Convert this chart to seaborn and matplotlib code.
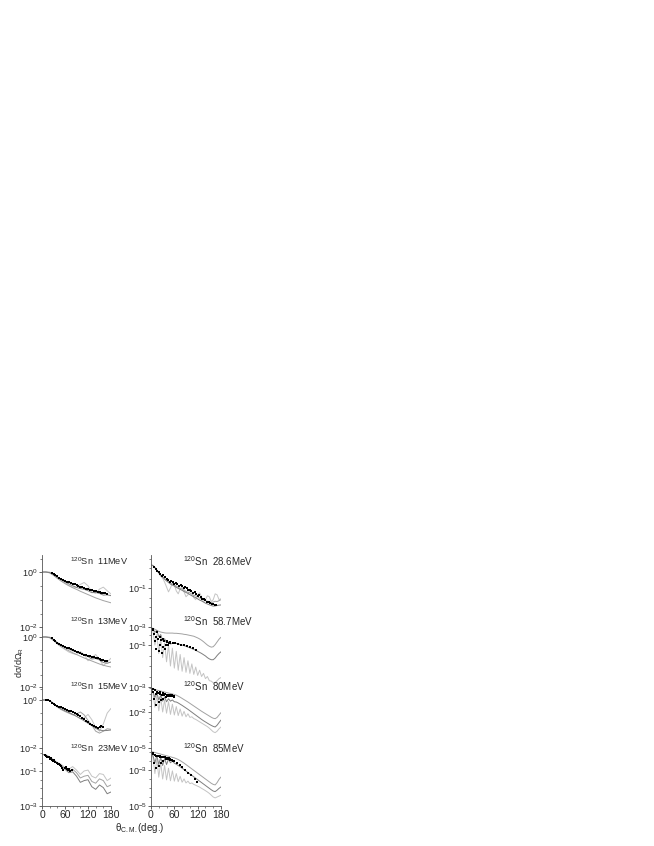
import numpy as np
import matplotlib
matplotlib.use('Agg')
import matplotlib.pyplot as plt
import seaborn as sns
from matplotlib.ticker import FixedLocator, LogLocator, NullFormatter, MultipleLocator

# ─── Data (log10 of dσ/dΩ_R) ─────────────────────────────────────────────────
TH10 = [0, 10, 20, 30, 40, 50, 60, 70, 80, 90, 100, 110, 120, 130, 140, 150, 160, 170, 180]
TH5 = [0, 5, 10, 15, 20, 25, 30, 35, 40, 45, 50, 55, 60, 65, 70, 75, 80, 85, 90,
       95, 100, 105, 110, 115, 120, 125, 130, 135, 140, 145, 150, 155, 160, 165, 170, 175, 180]

# 11 MeV
sn11_th = [25, 30, 35, 40, 45, 50, 55, 60, 65, 70, 75, 80, 85, 90, 95, 100, 105, 110, 115,
           120, 125, 130, 135, 140, 145, 150, 155, 160, 165, 170]
sn11_exp = [-0.02, -0.06, -0.12, -0.16, -0.21, -0.24, -0.28, -0.31, -0.35, -0.37,
            -0.40, -0.43, -0.45, -0.48, -0.50, -0.53, -0.55, -0.58, -0.60, -0.62,
            -0.64, -0.66, -0.68, -0.70, -0.72, -0.74, -0.75, -0.77, -0.78, -0.79]
sn11_a = [0, 0.01, 0, -0.1, -0.22, -0.32, -0.4, -0.48, -0.55, -0.55, -0.45, -0.38, -0.5, -0.72, -0.78, -0.62, -0.55, -0.68, -0.8]
sn11_b = [0, 0, -0.03, -0.12, -0.23, -0.33, -0.42, -0.5, -0.57, -0.63, -0.7, -0.76, -0.82, -0.88, -0.94, -0.99, -1.04, -1.08, -1.12]
sn11_c = [0, 0, -0.02, -0.1, -0.2, -0.28, -0.36, -0.43, -0.5, -0.56, -0.6, -0.63, -0.68, -0.75, -0.74, -0.78, -0.84, -0.83, -0.86]

# 13 MeV
sn13_th = sn11_th
sn13_exp = [-0.05, -0.1, -0.16, -0.22, -0.27, -0.31, -0.35, -0.38, -0.42, -0.45,
            -0.48, -0.52, -0.55, -0.58, -0.61, -0.64, -0.67, -0.7, -0.72, -0.74,
            -0.76, -0.79, -0.81, -0.83, -0.85, -0.87, -0.9, -0.92, -0.94, -0.96]
sn13_a = [0, 0.01, 0, -0.12, -0.28, -0.4, -0.5, -0.6, -0.66, -0.7, -0.58, -0.7, -0.95, -0.82, -0.7, -0.9, -1.15, -1.0, -0.85]
sn13_b = [0, 0, -0.03, -0.14, -0.27, -0.38, -0.47, -0.55, -0.63, -0.7, -0.77, -0.84, -0.9, -0.96, -1.02, -1.08, -1.13, -1.17, -1.2]
sn13_c = [0, 0, -0.02, -0.1, -0.22, -0.32, -0.41, -0.48, -0.55, -0.6, -0.66, -0.72, -0.78, -0.88, -0.86, -0.92, -1.02, -1.05, -1.0]

# 15 MeV
sn15_th = [10, 15, 20, 25, 30, 35, 40, 45, 50, 55, 60, 65, 70, 75, 80, 85, 90, 95, 100,
           105, 110, 115, 120, 125, 130, 135, 140, 145, 150, 155, 160]
sn15_exp = [0, -0.02, -0.06, -0.12, -0.17, -0.2, -0.24, -0.28, -0.3, -0.33,
            -0.36, -0.4, -0.44, -0.47, -0.5, -0.53, -0.57, -0.62, -0.68, -0.74,
            -0.8, -0.86, -0.92, -0.98, -1.03, -1.08, -1.12, -1.16, -1.14, -1.1, -1.12]
sn15_a = [0, 0, -0.02, -0.15, -0.28, -0.38, -0.45, -0.52, -0.6, -0.68, -0.78, -0.75, -0.6, -0.82, -1.15, -1.3, -1.0, -0.55, -0.35]
sn15_b = [0, 0, -0.03, -0.16, -0.3, -0.4, -0.48, -0.55, -0.62, -0.58, -0.5, -0.62, -0.85, -1.05, -1.3, -1.38, -1.3, -1.2, -1.22]
sn15_c = [0, 0, -0.02, -0.14, -0.27, -0.37, -0.45, -0.52, -0.6, -0.68, -0.77, -0.87, -0.97, -1.07, -1.18, -1.25, -1.28, -1.27, -1.25]

# 23 MeV
sn23_th = [8, 11, 14, 17, 20, 23, 26, 29, 32, 35, 38, 41, 44, 47, 50, 53, 56, 59, 62, 65, 68, 71, 74, 77]
sn23_exp = [-0.08, -0.12, -0.18, -0.22, -0.3, -0.28, -0.35, -0.42, -0.4, -0.48,
            -0.55, -0.6, -0.58, -0.66, -0.72, -0.85, -0.95, -0.82, -0.78, -0.88,
            -0.95, -0.9, -1.0, -0.95]
sn23_a = [-0.05, -0.08, -0.2, -0.35, -0.5, -0.62, -0.8, -0.9, -0.75, -0.95, -1.2, -1.0, -0.95, -1.3, -1.4, -1.15, -1.2, -1.55, -1.4]
sn23_b = [-0.05, -0.08, -0.22, -0.38, -0.55, -0.68, -0.85, -1.0, -0.9, -1.1, -1.4, -1.3, -1.25, -1.6, -1.7, -1.45, -1.55, -1.9, -1.8]
sn23_c = [-0.05, -0.1, -0.25, -0.4, -0.58, -0.72, -0.9, -1.1, -1.05, -1.3, -1.65, -1.55, -1.5, -1.9, -2.05, -1.8, -1.95, -2.3, -2.2]

# 28.6 MeV
sn286_th = [8, 12, 16, 20, 24, 28, 32, 36, 40, 44, 48, 52, 56, 60, 64, 68, 72, 76, 80, 84, 88,
            92, 96, 100, 104, 108, 112, 116, 120, 124, 128, 132, 136, 140, 144, 148, 152, 156, 160, 164, 168]
sn286_exp = [0.05, -0.05, -0.15, -0.2, -0.3, -0.38, -0.35, -0.45, -0.55, -0.6,
             -0.68, -0.62, -0.7, -0.78, -0.72, -0.8, -0.9, -0.85, -0.88, -1.0,
             -0.95, -1.02, -1.12, -1.08, -1.15, -1.28, -1.22, -1.3, -1.42, -1.38,
             -1.45, -1.58, -1.55, -1.6, -1.72, -1.7, -1.75, -1.82, -1.8, -1.85, -1.88]
sn286_a = [0.18, 0.15, 0.05, -0.1, -0.25, -0.4, -0.5, -0.7, -0.95, -1.2, -1.0, -0.75, -0.85,
           -1.15, -1.3, -1.05, -0.95, -1.2, -1.45, -1.35, -1.1, -1.2, -1.5, -1.6, -1.35,
           -1.25, -1.45, -1.7, -1.6, -1.4, -1.45, -1.7, -1.6, -1.3, -1.35, -1.6, -1.55]
sn286_b = [0.18, 0.15, 0.05, -0.08, -0.2, -0.32, -0.42, -0.52, -0.6, -0.68, -0.75, -0.8, -0.85,
           -0.9, -0.97, -1.02, -1.05, -1.1, -1.18, -1.22, -1.25, -1.32, -1.38, -1.4, -1.45,
           -1.52, -1.55, -1.58, -1.65, -1.68, -1.7, -1.75, -1.72, -1.68, -1.7, -1.65, -1.6]
sn286_c = [0.18, 0.15, 0.04, -0.1, -0.22, -0.35, -0.45, -0.55, -0.64, -0.72, -0.8, -0.85, -0.9,
           -0.97, -1.02, -1.07, -1.12, -1.18, -1.23, -1.28, -1.34, -1.4, -1.45, -1.5, -1.56,
           -1.62, -1.66, -1.72, -1.78, -1.82, -1.86, -1.9, -1.93, -1.92, -1.9, -1.88, -1.87]

# 58.7 MeV
sn587_th = [4, 6, 8, 10, 12, 14, 16, 18, 20, 22, 24, 26, 28, 30, 32, 34, 36, 38, 40, 42, 44, 46, 48, 50,
            56, 62, 70, 78, 85, 92, 100, 108, 115]
sn587_exp = [-0.25, -0.3, -0.45, -0.8, -1.2, -0.6, -0.4, -0.7, -1.3, -1.0, -0.6, -0.75,
             -1.4, -1.1, -0.7, -0.8, -1.2, -1.0, -0.8, -0.85, -1.0, -0.9, -0.85, -0.88,
             -0.9, -0.92, -0.95, -1.0, -0.98, -1.05, -1.1, -1.15, -1.25]
sn587_top = [-0.19, -0.2, -0.25, -0.3, -0.35, -0.38, -0.4, -0.42, -0.43, -0.43, -0.43, -0.43, -0.44,
             -0.44, -0.45, -0.46, -0.47, -0.49, -0.5, -0.52, -0.54, -0.56, -0.58, -0.62, -0.66,
             -0.71, -0.77, -0.84, -0.92, -1.0, -1.06, -1.1, -1.08, -0.98, -0.85, -0.72, -0.63]
sn587_mid = [-0.19, -0.22, -0.4, -0.3, -0.6, -0.5, -0.8, -0.7, -0.9, -0.85, -0.95, -0.92, -0.9,
             -0.92, -0.94, -0.98, -1.0, -1.03, -1.06, -1.1, -1.13, -1.17, -1.21, -1.25, -1.3,
             -1.35, -1.4, -1.46, -1.52, -1.6, -1.66, -1.7, -1.7, -1.62, -1.5, -1.4, -1.32]
sn587_low = [-0.19, -0.3, -1.0, -0.5, -1.4, -0.7, -1.6, -0.9, -1.8, -1.0, -2.0, -1.15, -2.1,
             -1.3, -2.2, -1.45, -2.25, -1.6, -2.3, -1.75, -2.35, -1.9, -2.4, -2.05, -2.45,
             -2.2, -2.5, -2.35, -2.6, -2.5, -2.7, -2.72, -2.8, -2.78, -2.7, -2.6, -2.55]

# 80 MeV
sn80_th = [4, 6, 8, 10, 12, 14, 16, 18, 20, 22, 24, 26, 28, 30, 32, 34, 36, 38, 40, 42, 44, 46,
           48, 50, 52, 54, 56, 58, 60]
sn80_exp = [-0.1, -0.3, -0.9, -0.2, -0.5, -1.4, -0.3, -0.4, -1.2, -0.5, -0.35, -1.0, -0.6,
            -0.45, -0.9, -0.55, -0.5, -0.75, -0.6, -0.55, -0.7, -0.62, -0.6, -0.68, -0.65,
            -0.62, -0.66, -0.7, -0.72]
sn80_top = [0, -0.05, -0.12, -0.18, -0.22, -0.26, -0.3, -0.34, -0.38, -0.42, -0.46, -0.5, -0.55,
            -0.6, -0.68, -0.77, -0.87, -0.97, -1.07, -1.17, -1.28, -1.39, -1.5, -1.61, -1.72,
            -1.83, -1.94, -2.04, -2.14, -2.24, -2.34, -2.44, -2.52, -2.56, -2.45, -2.25, -2.05]
sn80_mid = [0, -0.3, -0.8, -0.4, -1.0, -0.6, -1.1, -0.75, -1.15, -0.9, -1.1, -1.0, -1.15,
            -1.17, -1.25, -1.35, -1.45, -1.56, -1.67, -1.78, -1.9, -2.02, -2.14, -2.26, -2.38,
            -2.5, -2.62, -2.73, -2.83, -2.93, -3.03, -3.12, -3.2, -3.25, -3.1, -2.88, -2.67]
sn80_low = [0, -0.4, -1.6, -0.6, -1.9, -0.8, -2.0, -1.0, -2.1, -1.15, -2.2, -1.35, -2.25,
            -1.55, -2.3, -1.75, -2.35, -1.95, -2.4, -2.15, -2.45, -2.4, -2.55, -2.62, -2.72,
            -2.82, -2.92, -3.02, -3.12, -3.22, -3.35, -3.5, -3.65, -3.72, -3.6, -3.4, -3.25]

# 85 MeV
sn85_th = sn80_th + [66, 74, 80, 88, 96, 104, 112, 118]
sn85_exp = [-2.05, -2.1, -2.6, -2.15, -2.2, -2.9, -2.2, -2.25, -2.8, -2.25, -2.3, -2.6,
            -2.3, -2.28, -2.5, -2.3, -2.3, -2.4, -2.32, -2.35, -2.38, -2.36, -2.4, -2.42,
            -2.42, -2.45, -2.48, -2.5, -2.52,
            -2.6, -2.72, -2.85, -3.0, -3.15, -3.3, -3.5, -3.65]
sn85_top = [-1.98, -2.0, -2.03, -2.06, -2.09, -2.12, -2.15, -2.18, -2.21, -2.24, -2.27, -2.3,
            -2.33, -2.37, -2.42, -2.48, -2.55, -2.62, -2.7, -2.78, -2.86, -2.94, -3.02, -3.1,
            -3.18, -3.26, -3.34, -3.42, -3.5, -3.58, -3.66, -3.74, -3.8, -3.83, -3.7, -3.52, -3.39]
sn85_mid = [-1.98, -2.2, -2.6, -2.2, -2.7, -2.3, -2.75, -2.35, -2.7, -2.4, -2.6, -2.5, -2.62,
            -2.68, -2.75, -2.82, -2.9, -2.98, -3.06, -3.14, -3.22, -3.3, -3.38, -3.46, -3.54,
            -3.62, -3.7, -3.78, -3.86, -3.94, -4.02, -4.1, -4.17, -4.2, -4.12, -4.02, -3.94]
sn85_low = [-1.98, -2.3, -3.2, -2.4, -3.4, -2.6, -3.5, -2.75, -3.55, -2.9, -3.6, -3.05, -3.62,
            -3.2, -3.65, -3.35, -3.68, -3.5, -3.72, -3.62, -3.76, -3.72, -3.8, -3.85, -3.9,
            -3.95, -4.02, -4.08, -4.15, -4.22, -4.3, -4.4, -4.5, -4.55, -4.5, -4.45, -4.4]

LIGHT, MID, DARK = '#c4c4c4', '#a2a2a2', '#7e7e7e'

# ─── Panel table ──────────────────────────────────────────────────────────────
# (label, curve angles, curves, exp angles, exp, ylim log, labelled decades, text y px)
LEFT = [
    ('11MeV', TH10, [(sn11_a, LIGHT), (sn11_b, MID), (sn11_c, DARK)], sn11_th, sn11_exp, (-2, 0.62), [0, -2], 561),
    ('13MeV', TH10, [(sn13_a, LIGHT), (sn13_b, MID), (sn13_c, DARK)], sn13_th, sn13_exp, (-2, 0.40), [0, -2], 621),
    ('15MeV', TH10, [(sn15_a, LIGHT), (sn15_b, MID), (sn15_c, DARK)], sn15_th, sn15_exp, (-2, 0.54), [0, -2], 686),
    ('23MeV', TH10, [(sn23_a, LIGHT), (sn23_b, MID), (sn23_c, DARK)], sn23_th, sn23_exp, (-3, 0.31), [-1, -3], 748),
]
RIGHT = [
    ('28.6MeV', TH5, [(sn286_a, LIGHT), (sn286_b, MID), (sn286_c, DARK)], sn286_th, sn286_exp, (-3, 0.69), [-1, -3], 561),
    ('58.7MeV', TH5, [(sn587_low, LIGHT), (sn587_top, MID), (sn587_mid, DARK)], sn587_th, sn587_exp, (-3, -0.14), [-1, -3], 621),
    ('80MeV', TH5, [(sn80_low, LIGHT), (sn80_top, MID), (sn80_mid, DARK)], sn80_th, sn80_exp, (-5, 0.08), [-2, -5], 686),
    ('85MeV', TH5, [(sn85_low, LIGHT), (sn85_top, MID), (sn85_mid, DARK)], sn85_th, sn85_exp, (-5, -1.78), [-3, -5], 748),
]
ROWS = [(555, 627), (627, 687), (687, 748), (748, 806)]
W, H = 654, 846

sns.set_style('ticks')
plt.rcParams['font.family'] = ['Liberation Sans', 'DejaVu Sans']
plt.rcParams['mathtext.fontset'] = 'custom'
plt.rcParams['mathtext.rm'] = 'Liberation Sans'
plt.rcParams['mathtext.it'] = 'Liberation Sans:italic'

fig = plt.figure(figsize=(W / 100, H / 100), dpi=100)


def draw_panel(x0, x1, row, spec, bottom):
    label, th, curves, eth, exp, ylim, dec, ty = spec
    y0, y1 = row
    ax = fig.add_axes([x0 / W, 1 - y1 / H, (x1 - x0) / W, (y1 - y0) / H])
    ax.set_facecolor('none')
    for vals, col in curves:
        sns.lineplot(x=th, y=np.power(10.0, vals), ax=ax, color=col, lw=0.7,
                     estimator=None, sort=False, legend=False)
    sns.scatterplot(x=eth, y=np.power(10.0, exp), ax=ax, color='black', marker='s',
                    s=3.5, linewidth=0, legend=False, zorder=4)
    ax.set_yscale('log')
    ax.set_xlim(0, 180)
    ax.set_ylim(10.0 ** ylim[0], 10.0 ** ylim[1])
    ax.yaxis.set_major_locator(FixedLocator([10.0 ** d for d in dec]))
    ax.set_yticklabels(['10$^{\\mathregular{%d}}$' % d for d in dec], fontsize=6.5)
    ax.yaxis.set_minor_locator(LogLocator(base=10, subs=(1.0, 3.0), numticks=20))
    ax.yaxis.set_minor_formatter(NullFormatter())
    ax.tick_params(axis='y', which='major', length=2, width=0.5, pad=1)
    ax.tick_params(axis='y', which='minor', length=1.2, width=0.4)
    ax.set_xlabel(''); ax.set_ylabel('')
    for s in ['top', 'right']:
        ax.spines[s].set_visible(False)
    ax.spines['left'].set_linewidth(0.6)
    ax.spines['left'].set_color('#555555')
    if bottom:
        ax.xaxis.set_major_locator(FixedLocator([0, 60, 120, 180]))
        ax.xaxis.set_minor_locator(MultipleLocator(20))
        ax.set_xticklabels(['0', '60', '120', '180'], fontsize=7.5)
        ax.tick_params(axis='x', which='major', length=2, width=0.5, pad=1)
        ax.tick_params(axis='x', which='minor', length=1.2, width=0.4)
        ax.spines['bottom'].set_linewidth(0.6)
        ax.spines['bottom'].set_color('#555555')
    else:
        ax.spines['bottom'].set_visible(False)
        ax.tick_params(axis='x', which='both', bottom=False, labelbottom=False)
    return ax, label, ty


for col, (x0, x1, tx, fs) in zip([LEFT, RIGHT], [(42, 111, 70, 6.6), (151, 221, 183, 7)]):
    for i, (row, spec) in enumerate(zip(ROWS, col)):
        ax, label, ty = draw_panel(x0, x1, row, spec, i == 3)
        fig.text(tx / W, 1 - ty / H, '$^{\\mathregular{120}}$Sn  ' + label,
                 fontsize=fs, va='center', ha='left')

fig.text(20 / W, 1 - 662 / H, 'dσ/dΩ$_{\\mathregular{R}}$', rotation=90,
         fontsize=6.5, va='center', ha='center')
fig.text(140 / W, 1 - 828 / H, 'θ$_{\\mathregular{C.M.}}$(deg.)',
         fontsize=7, va='center', ha='center')

fig.savefig('out.png', dpi=100, facecolor='white')
